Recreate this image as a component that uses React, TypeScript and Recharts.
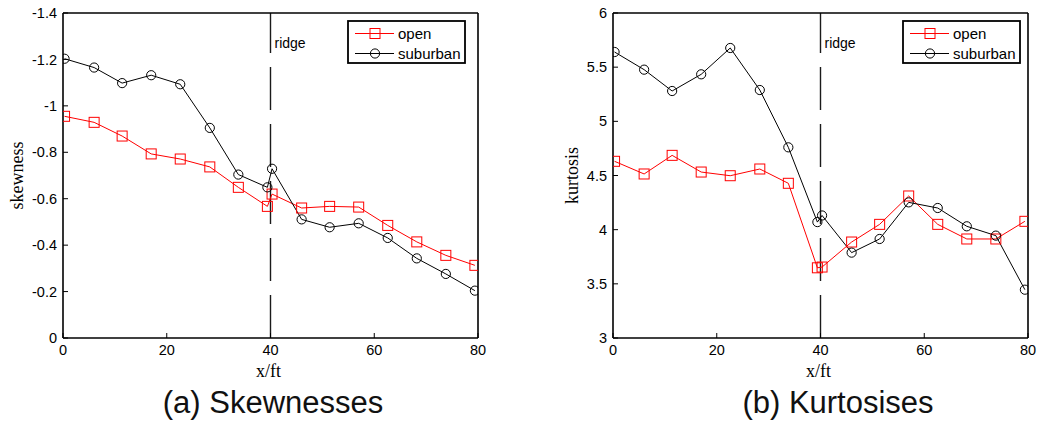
import React from 'react';
import { LineChart, Line, XAxis, YAxis, ReferenceLine, Legend } from 'recharts';

// ---- data ----
const xPositions = [0.3, 6.0, 11.4, 17.0, 22.6, 28.3, 33.8, 39.4, 40.3, 46.0, 51.4, 57.0, 62.6, 68.2, 73.8, 79.4];
const skewOpen = [-0.955, -0.929, -0.87, -0.793, -0.771, -0.737, -0.649, -0.567, -0.62, -0.56, -0.567, -0.564, -0.485, -0.414, -0.356, -0.313];
const skewSuburban = [-1.203, -1.165, -1.098, -1.132, -1.093, -0.905, -0.704, -0.649, -0.729, -0.511, -0.477, -0.494, -0.431, -0.343, -0.276, -0.204];
const kurtOpen = [4.631, 4.514, 4.686, 4.532, 4.498, 4.56, 4.428, 3.648, 3.655, 3.886, 4.049, 4.311, 4.049, 3.914, 3.914, 4.077];
const kurtSuburban = [5.64, 5.477, 5.28, 5.434, 5.677, 5.289, 4.76, 4.07, 4.131, 3.788, 3.914, 4.252, 4.2, 4.031, 3.945, 3.446];

const xTicks = [0, 20, 40, 60, 80];
const skewTicks = [-1.4, -1.2, -1, -0.8, -0.6, -0.4, -0.2, 0];
const kurtTicks = [3, 3.5, 4, 4.5, 5, 5.5, 6];
const ridgeX = 40;

const SANS = '"Liberation Sans", Arial, Helvetica, sans-serif';
const SERIF = '"Liberation Serif", "Times New Roman", serif';
const RED = '#ff0000';
const BLACK = '#000000';

const SquareDot = (props: any) => {
  const { cx, cy } = props;
  if (cx == null || cy == null) return <g />;
  return <rect x={cx - 5} y={cy - 5} width={10} height={10} fill="none" stroke={RED} strokeWidth={1} />;
};

const CircleDot = (props: any) => {
  const { cx, cy } = props;
  if (cx == null || cy == null) return <g />;
  return <circle cx={cx} cy={cy} r={4.6} fill="none" stroke={BLACK} strokeWidth={1} />;
};

const LegendBox = (props: any) => {
  const payload = props.payload || [];
  const w = 119;
  const h = 44;
  return (
    <svg width={w} height={h} style={{ display: 'block' }}>
      <rect x={1} y={1} width={w - 2} height={h - 2} fill="#fff" stroke={BLACK} strokeWidth={1.8} />
      {payload.map((item: any, i: number) => {
        const y = 13.5 + i * 20;
        const isOpen = item.value === 'open';
        const color = item.color;
        return (
          <g key={item.value}>
            <line x1={8} x2={47} y1={y} y2={y} stroke={color} strokeWidth={1} />
            {isOpen ? (
              <rect x={23} y={y - 5} width={10} height={10} fill="none" stroke={color} strokeWidth={1} />
            ) : (
              <circle cx={28} cy={y} r={4.6} fill="none" stroke={color} strokeWidth={1} />
            )}
            <text x={51} y={y + 5.3} fontFamily={SANS} fontSize={15} fill={BLACK}>
              {item.value}
            </text>
          </g>
        );
      })}
    </svg>
  );
};

type PanelProps = {
  width: number;
  yAxisWidth: number;
  marginRight: number;
  yDomain: [number, number];
  yTicks: number[];
  reversed: boolean;
  yLabel: string;
  yLabelDist: number;
  open: number[];
  suburban: number[];
  legendLeft: number;
};

const axisLineStyle = { stroke: BLACK, strokeWidth: 1.6 };
const tickLineStyle = { stroke: BLACK, strokeWidth: 1 };
const tickStyle = { fontFamily: SANS, fontSize: 14.5, fill: BLACK };

function Panel(p: PanelProps) {
  const data = xPositions.map((x, i) => ({ x, open: p.open[i], suburban: p.suburban[i] }));
  return (
    <LineChart width={p.width} height={421} data={data} margin={{ top: 12, right: p.marginRight, bottom: 43, left: 0 }}>
      <XAxis
        xAxisId="b"
        dataKey="x"
        type="number"
        domain={[0, 80]}
        ticks={xTicks}
        allowDataOverflow
        orientation="bottom"
        height={40}
        axisLine={axisLineStyle}
        tickLine={tickLineStyle}
        tickSize={-5}
        tickMargin={12}
        tick={tickStyle}
        label={(lp: any) => {
          const vb = lp.viewBox || {};
          return (
            <text x={vb.x + vb.width / 2 - 2} y={vb.y + 38.5} textAnchor="middle" fontFamily={SERIF} fontSize={18} fill={BLACK}>
              x/ft
            </text>
          );
        }}
      />
      <XAxis
        xAxisId="t"
        dataKey="x"
        type="number"
        domain={[0, 80]}
        ticks={xTicks}
        allowDataOverflow
        orientation="top"
        height={1}
        axisLine={axisLineStyle}
        tickLine={tickLineStyle}
        tickSize={-5}
        tick={false}
      />
      <YAxis
        yAxisId="l"
        type="number"
        domain={p.yDomain}
        ticks={p.yTicks}
        allowDataOverflow
        reversed={p.reversed}
        width={p.yAxisWidth}
        axisLine={axisLineStyle}
        tickLine={tickLineStyle}
        tickSize={-5}
        tickMargin={11}
        tick={tickStyle}
        label={(lp: any) => {
          const vb = lp.viewBox || {};
          const cx = vb.x + vb.width - p.yLabelDist;
          const cy = vb.y + vb.height / 2;
          return (
            <text
              x={cx}
              y={cy}
              transform={`rotate(-90, ${cx}, ${cy})`}
              textAnchor="middle"
              dominantBaseline="central"
              fontFamily={SERIF}
              fontSize={18}
              fill={BLACK}
            >
              {p.yLabel}
            </text>
          );
        }}
      />
      <YAxis
        yAxisId="r"
        orientation="right"
        type="number"
        domain={p.yDomain}
        ticks={p.yTicks}
        allowDataOverflow
        reversed={p.reversed}
        width={1}
        axisLine={axisLineStyle}
        tickLine={tickLineStyle}
        tickSize={-5}
        tick={false}
      />
      <ReferenceLine
        xAxisId="b"
        yAxisId="l"
        x={ridgeX}
        stroke="#1a1a1a"
        strokeWidth={1.4}
        strokeDasharray="43 14"
        label={(lp: any) => {
          const vb = lp.viewBox || {};
          return (
            <text x={vb.x + 4} y={vb.y + 35} fontFamily={SANS} fontSize={14} fill={BLACK}>
              ridge
            </text>
          );
        }}
      />
      <Line
        xAxisId="b"
        yAxisId="l"
        type="linear"
        dataKey="open"
        name="open"
        stroke={RED}
        strokeWidth={1}
        dot={SquareDot}
        activeDot={false}
        isAnimationActive={false}
      />
      <Line
        xAxisId="b"
        yAxisId="l"
        type="linear"
        dataKey="suburban"
        name="suburban"
        stroke={BLACK}
        strokeWidth={1}
        dot={CircleDot}
        activeDot={false}
        isAnimationActive={false}
      />
      <Legend
        layout="vertical"
        align="center"
        verticalAlign="middle"
        content={LegendBox}
        wrapperStyle={{ left: p.legendLeft, top: 20, width: 119, height: 44 }}
      />
    </LineChart>
  );
}

export default function App() {
  return (
    <div style={{ position: 'absolute', left: 0, top: 0, width: 1038, height: 421, background: '#fff', overflow: 'hidden' }}>
      <div style={{ position: 'absolute', left: 0, top: 0 }}>
        <Panel
          width={520}
          yAxisWidth={63}
          marginRight={41}
          yDomain={[-1.4, 0]}
          yTicks={skewTicks}
          reversed={true}
          yLabel="skewness"
          yLabelDist={46}
          open={skewOpen}
          suburban={skewSuburban}
          legendLeft={347}
        />
      </div>
      <div style={{ position: 'absolute', left: 520, top: 0 }}>
        <Panel
          width={518}
          yAxisWidth={93}
          marginRight={9}
          yDomain={[3, 6]}
          yTicks={kurtTicks}
          reversed={false}
          yLabel="kurtosis"
          yLabelDist={41.5}
          open={kurtOpen}
          suburban={kurtSuburban}
          legendLeft={382}
        />
      </div>
      <div
        style={{
          position: 'absolute',
          left: 73,
          top: 387,
          width: 400,
          textAlign: 'center',
          fontFamily: SANS,
          fontSize: 31,
          lineHeight: '31px',
          color: '#111',
          whiteSpace: 'nowrap',
        }}
      >
        (a) Skewnesses
      </div>
      <div
        style={{
          position: 'absolute',
          left: 638,
          top: 387,
          width: 400,
          textAlign: 'center',
          fontFamily: SANS,
          fontSize: 31,
          lineHeight: '31px',
          color: '#111',
          whiteSpace: 'nowrap',
        }}
      >
        (b) Kurtosises
      </div>
    </div>
  );
}
